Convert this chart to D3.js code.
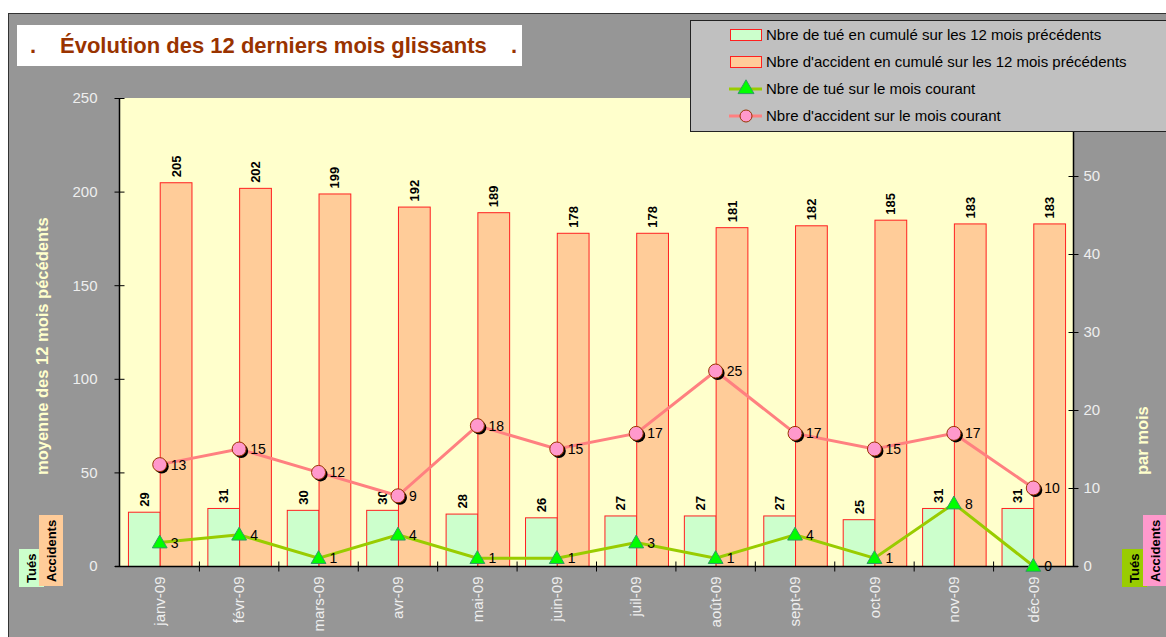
<!DOCTYPE html>
<html>
<head>
<meta charset="utf-8">
<script src="https://cdn.jsdelivr.net/npm/d3@7"></script>
<style>
  body { margin: 0; background: #fff; }
  svg { display: block; font-family: "Liberation Sans", Arial, sans-serif; }
</style>
</head>
<body>
<div id="chart"></div>
<script>
// chart data
const months = ['janv-09', 'févr-09', 'mars-09', 'avr-09', 'mai-09', 'juin-09',
                'juil-09', 'août-09', 'sept-09', 'oct-09', 'nov-09', 'déc-09'];
const tuesCumul = [29, 31, 30, 30, 28, 26, 27, 27, 27, 25, 31, 31];
const accidentsCumul = [205, 202, 199, 192, 189, 178, 178, 181, 182, 185, 183, 183];
const tuesMois = [3, 4, 1, 4, 1, 1, 3, 1, 4, 1, 8, 0];
const accidentsMois = [13, 15, 12, 9, 18, 15, 17, 25, 17, 15, 17, 10];
const leftTicks = [0, 50, 100, 150, 200, 250];
const rightTicks = [0, 10, 20, 30, 40, 50];
const legendLabels = [
    "Nbre de tué en cumulé sur les 12 mois précédents",
    "Nbre d'accident en cumulé sur les 12 mois précédents",
    "Nbre de tué sur le mois courant",
    "Nbre d'accident sur le mois courant"
];

const W = 1166, H = 637;
const plot = { left: 120, right: 1073, top: 98, bottom: 566 };
const tickColor = "#eeeeee";

const svg = d3.select("#chart").append("svg")
    .attr("width", W)
    .attr("height", H);

// grey chart area
svg.append("rect")
    .attr("x", 8.5).attr("y", 13.5)
    .attr("width", W).attr("height", H)
    .attr("fill", "#969696")
    .attr("stroke", "#333")
    .attr("stroke-width", 1);

// plot background
svg.append("rect")
    .attr("x", plot.left).attr("y", plot.top)
    .attr("width", plot.right - plot.left).attr("height", plot.bottom - plot.top)
    .attr("fill", "#ffffcc");

// scales
const x = d3.scaleBand().domain(months).range([plot.left, plot.right]);
const xSub = d3.scaleBand().domain(["t", "a"]).range([0, x.bandwidth()]).paddingOuter(0.25);
const yL = d3.scaleLinear().domain([0, 250]).range([plot.bottom, plot.top]);
const yR = d3.scaleLinear().domain([0, 60]).range([plot.bottom, plot.top]);
const cx = d => x(d) + x.bandwidth() / 2;

// bars
const barSeries = [
    { key: "t", values: tuesCumul, fill: "#ccffcc" },
    { key: "a", values: accidentsCumul, fill: "#ffcc99" }
];
barSeries.forEach(s => {
    const g = svg.append("g");
    g.selectAll("rect")
        .data(months)
        .enter().append("rect")
        .attr("x", (m) => x(m) + xSub(s.key) + 0.5)
        .attr("y", (m, i) => yL(s.values[i]) + 0.5)
        .attr("width", xSub.bandwidth())
        .attr("height", (m, i) => plot.bottom - yL(s.values[i]))
        .attr("fill", s.fill)
        .attr("stroke", "#ff2020")
        .attr("stroke-width", 1);
    g.selectAll("text")
        .data(months)
        .enter().append("text")
        .attr("transform", (m, i) =>
            `translate(${x(m) + xSub(s.key) + xSub.bandwidth() / 2 + 0.5},${yL(s.values[i]) - 5}) rotate(-90)`)
        .attr("dy", "0.35em")
        .attr("font-size", "13px")
        .attr("font-weight", "bold")
        .attr("fill", "#000")
        .text((m, i) => s.values[i]);
});

// left axis
const axL = svg.append("g")
    .attr("transform", `translate(${plot.left - 0.5},0)`)
    .call(d3.axisLeft(yL).tickValues(d3.range(0, 251, 10)).tickSize(4).tickFormat(""));
axL.call(d3.axisLeft(yL).tickValues(leftTicks).tickSize(5).tickPadding(17));
axL.selectAll(".domain").remove();
axL.selectAll("line").attr("stroke", "#000");
axL.selectAll("text").attr("fill", tickColor).attr("font-size", "15px")
    .attr("font-family", "Liberation Sans, Arial, sans-serif");
axL.selectAll(null).data(leftTicks).enter().append("line")
    .attr("x1", 0).attr("x2", 5)
    .attr("y1", d => yL(d) + 0.5).attr("y2", d => yL(d) + 0.5)
    .attr("stroke", "#000");

// right axis
const axR = svg.append("g")
    .attr("transform", `translate(${plot.right + 0.5},0)`)
    .call(d3.axisRight(yR).tickValues(d3.range(0, 61, 5)).tickSize(5).tickFormat(""));
axR.call(d3.axisRight(yR).tickValues(rightTicks).tickSize(5).tickPadding(5));
axR.selectAll(".domain").remove();
axR.selectAll("line").attr("stroke", "#000");
axR.selectAll("text").attr("fill", tickColor).attr("font-size", "15px")
    .attr("font-family", "Liberation Sans, Arial, sans-serif");
axR.selectAll(null).data(rightTicks).enter().append("line")
    .attr("x1", -5).attr("x2", 0)
    .attr("y1", d => yR(d) + 0.5).attr("y2", d => yR(d) + 0.5)
    .attr("stroke", "#000");

// axis lines
svg.append("line")
    .attr("x1", plot.left - 0.5).attr("x2", plot.left - 0.5)
    .attr("y1", plot.top).attr("y2", plot.bottom + 1)
    .attr("stroke", "#000").attr("stroke-width", 1.5);
svg.append("line")
    .attr("x1", plot.right + 0.5).attr("x2", plot.right + 0.5)
    .attr("y1", plot.top).attr("y2", plot.bottom + 1)
    .attr("stroke", "#000").attr("stroke-width", 1.5);

// x axis
const axX = svg.append("g")
    .attr("transform", `translate(0,${plot.bottom + 0.5})`);
axX.append("line")
    .attr("x1", plot.left - 5).attr("x2", plot.right + 5)
    .attr("stroke", "#000").attr("stroke-width", 1.5);
axX.selectAll(".tk")
    .data(months.slice(1))
    .enter().append("line")
    .attr("x1", m => x(m)).attr("x2", m => x(m))
    .attr("y1", -5).attr("y2", 5)
    .attr("stroke", "#000");
axX.selectAll("text")
    .data(months)
    .enter().append("text")
    .attr("transform", m => `translate(${cx(m)},10) rotate(-90)`)
    .attr("text-anchor", "end")
    .attr("dy", "0.35em")
    .attr("font-size", "15px")
    .attr("fill", tickColor)
    .text(m => m);

// line series
const accLine = d3.line().x((d, i) => cx(months[i])).y(d => yR(d));
svg.append("path")
    .datum(accidentsMois)
    .attr("d", accLine)
    .attr("fill", "none")
    .attr("stroke", "#ff8080")
    .attr("stroke-width", 3);
svg.append("path")
    .datum(tuesMois)
    .attr("d", accLine)
    .attr("fill", "none")
    .attr("stroke", "#99cc00")
    .attr("stroke-width", 3);

// circle markers with shadow
const acc = svg.append("g");
acc.selectAll(".shadow")
    .data(accidentsMois)
    .enter().append("circle")
    .attr("cx", (d, i) => cx(months[i]) + 2)
    .attr("cy", d => yR(d) + 2)
    .attr("r", 7)
    .attr("fill", "#000");
acc.selectAll(".dot")
    .data(accidentsMois)
    .enter().append("circle")
    .attr("cx", (d, i) => cx(months[i]))
    .attr("cy", d => yR(d))
    .attr("r", 7)
    .attr("fill", "#ff99cc")
    .attr("stroke", "#993300")
    .attr("stroke-width", 1);
acc.selectAll("text")
    .data(accidentsMois)
    .enter().append("text")
    .attr("x", (d, i) => cx(months[i]) + 11)
    .attr("y", d => yR(d))
    .attr("dy", "0.35em")
    .attr("font-size", "14px")
    .attr("fill", "#000")
    .text(d => d);

// triangle markers
const tri = d3.symbol().type(d3.symbolTriangle).size(95);
const tu = svg.append("g");
tu.selectAll("path")
    .data(tuesMois)
    .enter().append("path")
    .attr("d", tri)
    .attr("transform", (d, i) => `translate(${cx(months[i])},${yR(d) + 1})`)
    .attr("fill", "#00ff00")
    .attr("stroke", "#339966")
    .attr("stroke-width", 1);
tu.selectAll("text")
    .data(tuesMois)
    .enter().append("text")
    .attr("x", (d, i) => cx(months[i]) + 11)
    .attr("y", d => yR(d))
    .attr("dy", "0.35em")
    .attr("font-size", "14px")
    .attr("fill", "#000")
    .text(d => d);

// axis titles
svg.append("text")
    .attr("transform", "translate(48,475) rotate(-90)")
    .attr("font-size", "16.5px")
    .attr("font-weight", "bold")
    .attr("fill", "#ffffcc")
    .text("moyenne des 12 mois pécédents");
svg.append("text")
    .attr("transform", "translate(1148,475) rotate(-90)")
    .attr("font-size", "16.5px")
    .attr("font-weight", "bold")
    .attr("fill", "#ffffcc")
    .text("par mois");

// small series tags at bottom
function tag(bx, by, bw, bh, fill, label) {
    svg.append("rect")
        .attr("x", bx).attr("y", by).attr("width", bw).attr("height", bh)
        .attr("fill", fill);
    svg.append("text")
        .attr("transform", `translate(${bx + bw / 2},${by + bh - 4}) rotate(-90)`)
        .attr("dy", "0.35em")
        .attr("font-size", "13px")
        .attr("font-weight", "bold")
        .attr("fill", "#000")
        .text(label);
}
tag(19, 549, 25, 38, "#ccffcc", "Tués");
tag(39, 515, 24, 71, "#ffcc99", "Accidents");
tag(1122, 549, 25, 38, "#99cc00", "Tués");
tag(1143, 515, 24, 71, "#ff99cc", "Accidents");

// title
svg.append("rect")
    .attr("x", 17).attr("y", 25).attr("width", 505).attr("height", 41)
    .attr("fill", "#fff");
svg.append("text")
    .attr("x", 30).attr("y", 53)
    .attr("font-size", "22px")
    .attr("font-weight", "bold")
    .attr("fill", "#993300")
    .text(".");
svg.append("text")
    .attr("x", 60).attr("y", 53)
    .attr("font-size", "22px")
    .attr("font-weight", "bold")
    .attr("fill", "#993300")
    .text("Évolution des 12 derniers mois glissants");
svg.append("text")
    .attr("x", 511).attr("y", 53)
    .attr("font-size", "22px")
    .attr("font-weight", "bold")
    .attr("fill", "#993300")
    .text(".");

// legend
const lg = svg.append("g");
lg.append("rect")
    .attr("x", 690.5).attr("y", 20.5).attr("width", 500).attr("height", 111)
    .attr("fill", "#c0c0c0")
    .attr("stroke", "#222")
    .attr("stroke-width", 1);
const rowY = [35, 62, 89, 116];
lg.append("rect").attr("x", 730.5).attr("y", rowY[0] - 5.5).attr("width", 31).attr("height", 11)
    .attr("fill", "#ccffcc").attr("stroke", "#ff2020");
lg.append("rect").attr("x", 730.5).attr("y", rowY[1] - 5.5).attr("width", 31).attr("height", 11)
    .attr("fill", "#ffcc99").attr("stroke", "#ff2020");
lg.append("line").attr("x1", 729).attr("x2", 762).attr("y1", rowY[2]).attr("y2", rowY[2])
    .attr("stroke", "#99cc00").attr("stroke-width", 3);
lg.append("path").attr("d", d3.symbol().type(d3.symbolTriangle).size(110))
    .attr("transform", `translate(746,${rowY[2]})`)
    .attr("fill", "#00ff00").attr("stroke", "#339966");
lg.append("line").attr("x1", 729).attr("x2", 762).attr("y1", rowY[3]).attr("y2", rowY[3])
    .attr("stroke", "#ff8080").attr("stroke-width", 3);
lg.append("circle").attr("cx", 746).attr("cy", rowY[3]).attr("r", 6)
    .attr("fill", "#ff99cc").attr("stroke", "#993300");
lg.selectAll(".lbl")
    .data(legendLabels)
    .enter().append("text")
    .attr("x", 766)
    .attr("y", (d, i) => rowY[i])
    .attr("dy", "0.35em")
    .attr("font-size", "15px")
    .attr("fill", "#000")
    .text(d => d);
</script>
</body>
</html>
